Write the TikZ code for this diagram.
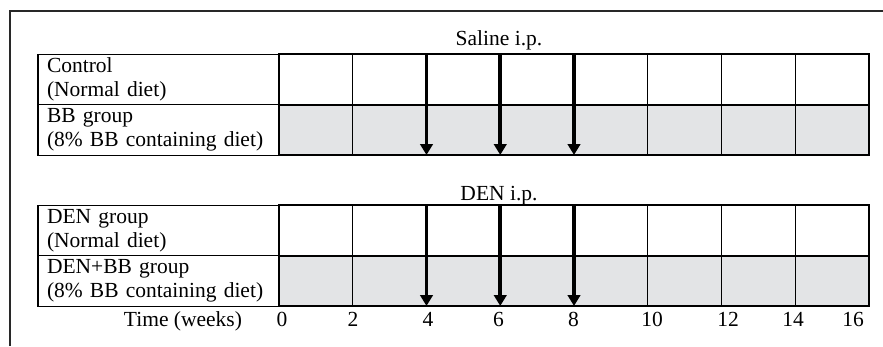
\documentclass[tikz,border=0pt]{standalone}
\usepackage{fontspec}
\setmainfont{Liberation Serif}
\usetikzlibrary{arrows.meta}
\definecolor{cellgray}{RGB}{227,228,230}
\definecolor{framegray}{RGB}{40,40,40}
\begin{document}
\begin{tikzpicture}[x=1pt,y=-1pt,
  frameline/.style={draw=framegray,line width=2pt},
  gridline/.style={draw=black,line width=1.4pt},
  labelcell/.style={draw=black,line width=1.4pt,minimum width=241pt,minimum height=50.5pt,
    text width=223pt,inner xsep=9pt,inner ysep=0pt,align=left,
    font=\fontsize{21.5pt}{23.5pt}\selectfont},
  txt/.style={font=\fontsize{21.5pt}{23.5pt}\selectfont,inner sep=0pt},
  dose/.style={line width=3.6pt,-{Triangle[width=12.5pt,length=11pt]}}
]
\useasboundingbox (0,0) rectangle (883,346);
% outer frame
\draw[frameline] (10,346) -- (10,10.5) -- (883,10.5);

% ---------- upper table ----------
\fill[cellgray] (279,105) rectangle (869,155);
\draw[gridline] (279,54) rectangle (869,155);
\draw[gridline] (279,105) -- (869,105);
\foreach \x in {352.75,647.75,721.5,795.25} \draw[gridline] (\x,54) -- (\x,155);
\node[labelcell] (ctrl) at (158.5,79.5) {Control\\(Normal diet)};
\node[labelcell] (bb) at (158.5,130) {BB group\\(8\% BB containing diet)};
\node[txt,anchor=base] (saline) at (499,45) {Saline i.p.};
\foreach \x/\n in {426.5/a, 500.25/b, 574/c} {
  \coordinate (s\n top) at (\x,54);
  \coordinate (s\n bot) at (\x,155);
  \draw[dose] (s\n top) -- (s\n bot);
}

% ---------- lower table ----------
\fill[cellgray] (279,256) rectangle (869,306);
\draw[gridline] (279,205) rectangle (869,306);
\draw[gridline] (279,256) -- (869,256);
\foreach \x in {352.75,647.75,721.5,795.25} \draw[gridline] (\x,205) -- (\x,306);
\node[labelcell] (den) at (158.5,230.5) {DEN group\\(Normal diet)};
\node[labelcell] (denbb) at (158.5,281) {DEN+BB group\\(8\% BB containing diet)};
\node[txt,anchor=base] (denip) at (499,200) {DEN i.p.};
\foreach \x/\n in {426.5/a, 500.25/b, 574/c} {
  \coordinate (d\n top) at (\x,205);
  \coordinate (d\n bot) at (\x,306);
  \draw[dose] (d\n top) -- (d\n bot);
}

% ---------- time axis ----------
\node[txt,anchor=base] (time) at (183,326) {Time (weeks)};
\foreach \x/\t in {282/0, 353/2, 428/4, 498.5/6, 573.5/8, 652/10, 728/12, 793/14, 853/16}
  \node[txt,anchor=base] (t\t) at (\x,326) {\t};
\end{tikzpicture}
\end{document}
